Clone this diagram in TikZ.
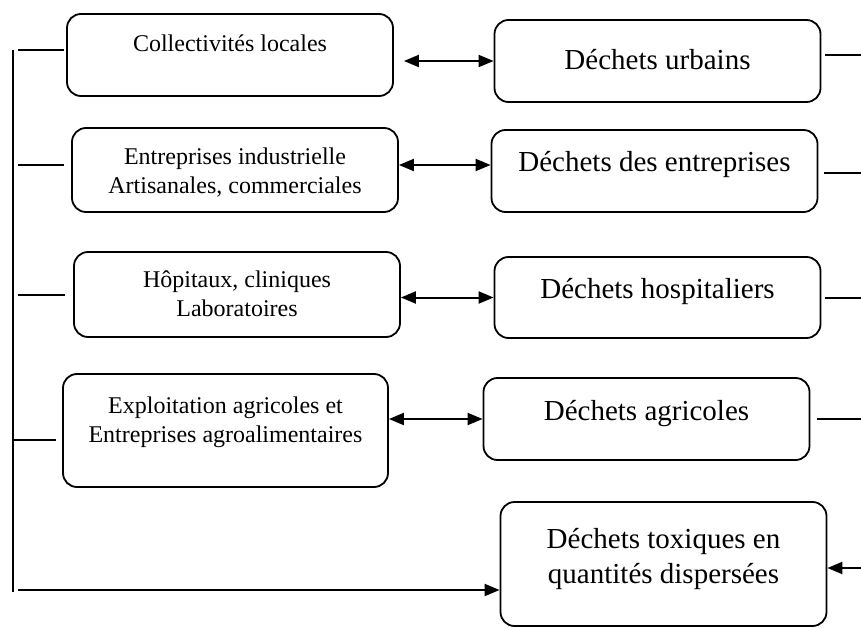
\documentclass[tikz,border=0pt]{standalone}
\usepackage{fontspec}
\setmainfont{Liberation Serif}
\usetikzlibrary{arrows.meta,calc}
\tikzset{
  source/.style = {rectangle, rounded corners=14pt, draw, line width=1.8pt, inner sep=0pt,
                   align=center, font=\fontsize{24}{29}\selectfont},
  waste/.style  = {rectangle, rounded corners=14pt, draw, line width=1.8pt, inner sep=0pt,
                   align=center, font=\fontsize{29}{35}\selectfont, minimum width=326pt},
  wire/.style   = {line width=2pt},
  flow/.style   = {-{Triangle[length=15pt,width=12pt]}, line width=2pt},
  both/.style   = {{Triangle[length=15pt,width=12pt]}-{Triangle[length=15pt,width=12pt]}, line width=2pt},
}

\begin{document}
\begin{tikzpicture}[x=1pt, y=-1pt]
  \useasboundingbox (0,0) rectangle (861,628);

  %% producers (left column)
  \node[source, minimum width=326pt, text height=38pt, text depth=44pt] (coll) at (230,55)
    {Collectivités locales};
  \node[source, minimum width=326pt, text height=66pt, text depth=18pt] (indus) at (235,170)
    {Entreprises industrielle\\Artisanales, commerciales};
  \node[source, minimum width=326pt, text height=64pt, text depth=21pt] (hopit) at (237,294.5)
    {Hôpitaux, cliniques\\Laboratoires};
  \node[source, minimum width=325pt, text height=68pt, text depth=45pt] (agro) at (225.5,430.5)
    {Exploitation agricoles et\\Entreprises agroalimentaires};

  %% waste types (right column)
  \node[waste, text height=50pt, text depth=32pt] (urbain) at (657.5,61) {Déchets urbains};
  \node[waste, text height=42pt, text depth=40pt] (entrep) at (654.5,171) {Déchets des entreprises};
  \node[waste, text height=41pt, text depth=40pt] (hospit) at (657.5,297.5) {Déchets hospitaliers};
  \node[waste, text height=42pt, text depth=40pt] (agric) at (646.5,419) {Déchets agricoles};
  \node[waste, text height=81pt, text depth=43pt] (toxic) at (663.5,564)
    {Déchets toxiques en\\quantités dispersées};

  %% free ends
  \coordinate (top) at (13,50);
  \coordinate (bot) at (13,592);
  \coordinate (base) at (18,590);
  \coordinate (rim) at (861,0);
  \coordinate (edge) at (861,568);

  %% left trunk and stubs
  \draw[wire] (top) -- (bot);
  \draw[wire] ([yshift=5pt]coll.west -| base) -- ([xshift=-2pt,yshift=5pt]coll.west);
  \draw[wire] ([yshift=5pt]indus.west -| base) -- ([xshift=-7pt,yshift=5pt]indus.west);
  \draw[wire] (hopit.west -| base) -- ([xshift=-8pt]hopit.west);
  \draw[wire] ([yshift=-9pt]agro.west -| bot) -- ([xshift=-6pt,yshift=-9pt]agro.west);
  \draw[flow] (base) -- (base -| toxic.west);

  %% double arrows
  \draw[both] ([xshift=10pt]coll.east |- urbain.west) -- (urbain.west);
  \draw[both] ([yshift=5pt]indus.east) -- ([yshift=5pt]indus.east -| entrep.west);
  \draw[both] (hopit.east |- hospit.west) -- (hospit.west);
  \draw[both] (agro.east |- agric.west) -- (agric.west);

  %% right stubs
  \draw[wire] ([xshift=4pt,yshift=6pt]urbain.east) -- ([yshift=6pt]urbain.east -| rim);
  \draw[wire] ([xshift=6pt,yshift=-2pt]entrep.east) -- ([yshift=-2pt]entrep.east -| rim);
  \draw[wire] ([xshift=4pt]hospit.east) -- (hospit.east -| rim);
  \draw[wire] ([xshift=7pt]agric.east) -- (agric.east -| rim);
  \draw[flow] (edge) -- (edge -| toxic.east);
\end{tikzpicture}
\end{document}
